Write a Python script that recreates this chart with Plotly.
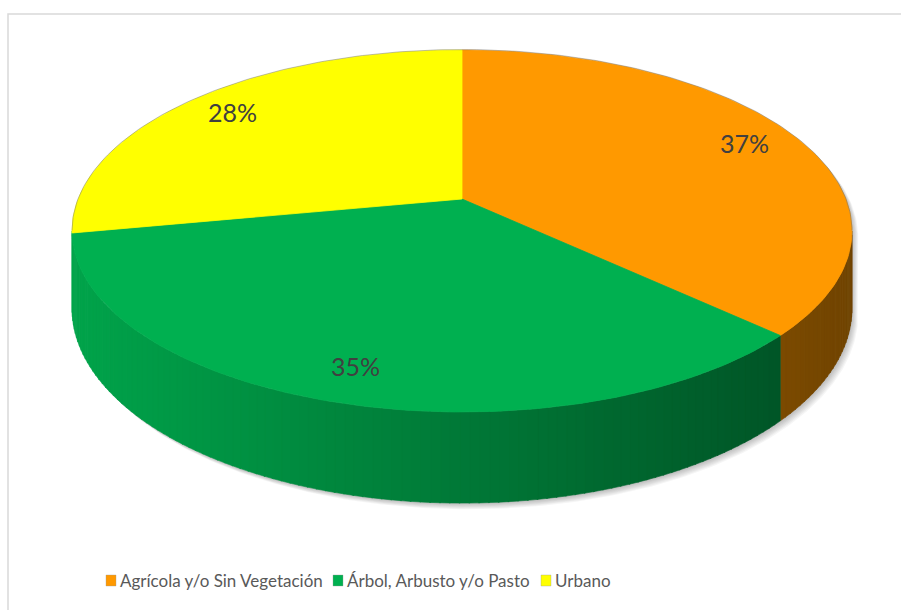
import numpy as np
import plotly.graph_objects as go

# Land-cover shares (percent)
categories = ["Agrícola y/o Sin Vegetación", "Árbol, Arbusto y/o Pasto", "Urbano"]
values = [37, 35, 28]
labels = ["37%", "35%", "28%"]
top_colors = [(255, 153, 0), (0, 176, 80), (255, 255, 0)]

# Pixel-space geometry of the tilted disk (perspective homography)
W, H = 901, 610
CX, CY = 462.0, 199.0      # projected centre of the disk
A, B = 383.8, 175.3         # horizontal / vertical scale
K = 0.1768                  # perspective strength
DEPTH = 75.0                # thickness of the disk
LABEL_R = 0.85


def proj(phi_deg, r=1.0, depth=0.0):
    """Project a point of the disk (angle clockwise from the back, radius r)."""
    phi = np.radians(phi_deg)
    u = r * np.sin(phi)
    v = -r * np.cos(phi)
    w = 1.0 - K * v
    x = CX + A * u / w
    y = CY + B * v / w + depth / w
    return x, y


def rgb(c, f=1.0):
    return "rgb(%d,%d,%d)" % tuple(int(round(min(255, ch * f))) for ch in c)


total = float(sum(values))
bounds = np.concatenate([[0.0], np.cumsum(values) / total * 360.0])

fig = go.Figure()

# soft drop shadow under the solid
sil_lo = np.degrees(np.arccos(-K))
sil_hi = 360.0 - sil_lo
t_back = np.linspace(sil_hi, sil_lo + 360.0, 200)
t_front = np.linspace(sil_lo, sil_hi, 200)
bx, by = proj(t_back)
fx, fy = proj(t_front, depth=DEPTH)
sx = np.concatenate([bx, fx])
sy = np.concatenate([by, fy])
for i in range(1, 8):
    fig.add_trace(go.Scatter(
        x=sx + 0.9 * i, y=sy + 0.9 * i, mode="lines", fill="toself",
        fillcolor="rgba(0,0,0,0.04)", line=dict(width=0),
        hoverinfo="skip", showlegend=False))

# visible part of the side wall for each slice (slivers merged into neighbours)
ranges = []
for i in range(len(values)):
    a0 = max(bounds[i], sil_lo)
    a1 = min(bounds[i + 1], sil_hi)
    if a1 > a0:
        ranges.append([i, a0, a1])
merged = []
for r in ranges:
    if r[2] - r[1] < 1.0 and merged:
        merged[-1][2] = r[2]
    else:
        merged.append(r)

# side wall, split in thin strips shaded from left to right
x_left, _ = proj(sil_hi)
x_right, _ = proj(sil_lo)
for i, a0, a1 in merged:
    c = top_colors[i]
    n = max(2, int((a1 - a0) / 1.2))
    edges = np.linspace(a0, a1, n + 1)
    for j in range(n):
        p0, p1 = edges[j], min(edges[j + 1] + 0.15, a1)
        tx0, ty0 = proj(p0)
        tx1, ty1 = proj(p1)
        dx0, dy0 = proj(p0, depth=DEPTH)
        dx1, dy1 = proj(p1, depth=DEPTH)
        xm = 0.5 * (tx0 + tx1)
        t = (xm - x_left) / (x_right - x_left)
        f = 0.93 - 0.49 * t
        fig.add_trace(go.Scatter(
            x=[tx0, tx1, dx1, dx0, tx0], y=[ty0, ty1, dy1, dy0, ty0],
            mode="lines", fill="toself", fillcolor=rgb(c, f),
            line=dict(width=0.6, color=rgb(c, f)),
            hoverinfo="skip", showlegend=False))

# top face slices
for i, c in enumerate(top_colors):
    arc = np.linspace(bounds[i], bounds[i + 1], 120)
    ax_, ay_ = proj(arc)
    xs = np.concatenate([[CX], ax_, [CX]])
    ys = np.concatenate([[CY], ay_, [CY]])
    fig.add_trace(go.Scatter(
        x=xs, y=ys, mode="lines", fill="toself", fillcolor=rgb(c),
        line=dict(width=0.8, color=rgb(c)),
        hoverinfo="skip", showlegend=False))

# faint rim along the back edge
rim = np.linspace(sil_hi, sil_lo + 360.0, 200)
rx, ry = proj(rim)
fig.add_trace(go.Scatter(x=rx, y=ry - 0.5, mode="lines",
                         line=dict(width=1, color="rgba(110,110,110,0.45)"),
                         hoverinfo="skip", showlegend=False))

# percentage labels, sitting on the top face at the middle of each slice
for i, lab in enumerate(labels):
    mid = 0.5 * (bounds[i] + bounds[i + 1])
    lx, ly = proj(mid, r=LABEL_R)
    fig.add_annotation(x=lx, y=ly, text=lab, showarrow=False,
                       font=dict(family="Lato", size=25, color="#404040"),
                       xanchor="center", yanchor="middle")

# legend: coloured squares followed by the category names
legend_x = [106, 333, 541]
legend_y = 580.5
for i, name in enumerate(categories):
    x0 = legend_x[i]
    fig.add_shape(type="rect", x0=x0, x1=x0 + 10, y0=legend_y - 5.5, y1=legend_y + 5.5,
                  fillcolor=rgb(top_colors[i]), line=dict(width=0.6, color="rgba(150,150,150,0.6)"),
                  xref="x", yref="y")
    fig.add_annotation(x=x0 + 12, y=legend_y, text=name, showarrow=False,
                       xanchor="left", yanchor="middle",
                       font=dict(family="Lato", size=17, color="#595959"))

# chart frame
fig.add_shape(type="rect", x0=8, y0=14, x1=W + 20, y1=H + 20,
              line=dict(color="#D9D9D9", width=1.5), fillcolor="rgba(0,0,0,0)",
              xref="x", yref="y", layer="below")

fig.update_layout(
    width=W, height=H, margin=dict(l=0, r=0, t=0, b=0),
    paper_bgcolor="white", plot_bgcolor="white",
    xaxis=dict(range=[0, W], visible=False, fixedrange=True),
    yaxis=dict(range=[H, 0], visible=False, fixedrange=True),
    showlegend=False,
)

fig.write_html("out.html")
